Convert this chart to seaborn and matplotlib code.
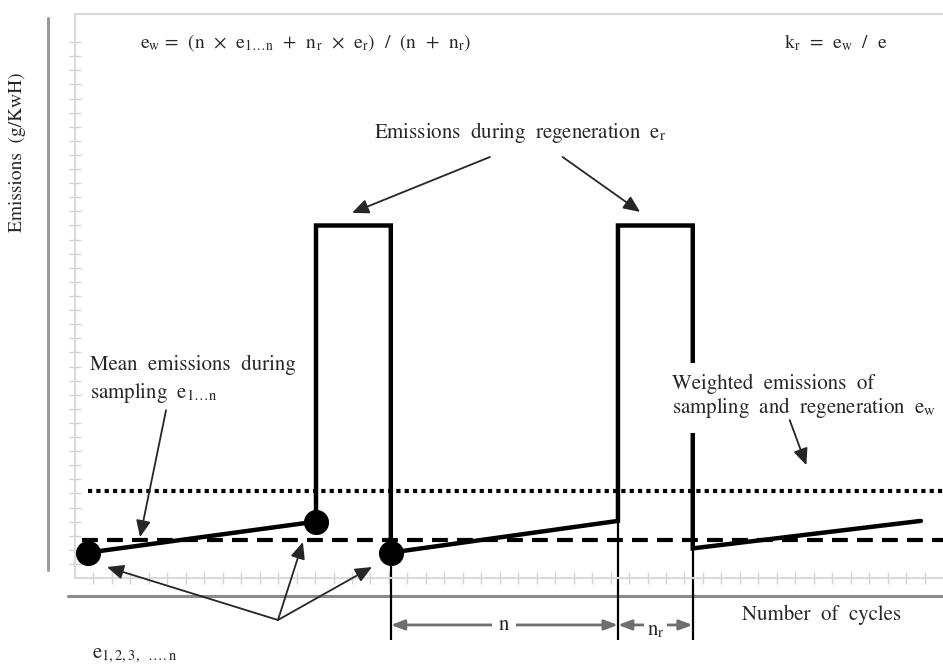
'''
Regeneration emissions schematic (e_w / k_r)
'''
import numpy as np
import seaborn as sns
import matplotlib.pyplot as plt

# emission trace: sampling ramps, two regeneration plateaus
cycles = [0.7, 13.05, 13.05, 17.1, 17.1, 29.4, 29.4, 33.45, 33.45, 45.8]
emissions = [1.8, 4.0, 25.0, 25.0, 1.8, 4.05, 25.0, 25.0, 2.1, 4.05]

# single test points e_1, e_2, e_3 ...
dot_cycles = [0.7, 13.05, 17.1]
dot_emissions = [1.8, 4.0, 1.8]

mean_e = 2.7        # e_1...n (dashed)
weighted_e = 6.2    # e_w (dotted)
level_start = 0.4
x_max, y_max = 47, 40

# n and n_r spans
n_span = [17.1, 29.4]
nr_span = [29.4, 33.45]
ext_tops = [1.8, 4.05, 2.1]

sns.set_theme(style='white')
plt.rcParams['font.family'] = ['STIXGeneral', 'DejaVu Serif']
plt.rcParams['mathtext.fontset'] = 'stix'

fig = plt.figure(figsize=(9.43, 6.64), dpi=100)
ax = fig.add_axes([75/943, 86/664, 868/943, 564/664])
ax.set_xlim(0, x_max)
ax.set_ylim(0, y_max)

# light grey frame with minor tick marks
for side in ['left', 'top', 'bottom']:
    ax.spines[side].set_color('#dadada')
    ax.spines[side].set_linewidth(1.5)
ax.spines['right'].set_visible(False)
ax.set_xticks(np.arange(1, x_max))
ax.set_yticks(np.arange(1, y_max - 1))
ax.tick_params(direction='inout', length=8, width=1, color='#d2d2d2',
               bottom=True, left=True, labelbottom=False, labelleft=False)

# darker outer axis lines
ax.plot([-0.031, -0.031], [0.014, 0.993], transform=ax.transAxes,
        color='#9a9a9a', lw=2.2, clip_on=False)
ax.plot([-0.008, 1.0], [-0.032, -0.032], transform=ax.transAxes,
        color='#8a8a8a', lw=2.2, clip_on=False)

# reference levels
ax.hlines(weighted_e, level_start + 0.3, x_max, colors='black', lw=3,
          linestyles=(0, (1, 1)))
ax.hlines(mean_e, level_start, x_max, colors='black', lw=3,
          linestyles=(0, (3.8, 2.2)))

# emission trace
sns.lineplot(x=cycles, y=emissions, sort=False, estimator=None, color='black',
             lw=3.2, ax=ax, solid_joinstyle='miter')
sns.scatterplot(x=dot_cycles, y=dot_emissions, s=280, color='black',
                edgecolor='black', zorder=5, ax=ax)

# extension lines for n / n_r
ax.vlines([n_span[0], nr_span[0], nr_span[1]], -4.4, ext_tops,
          colors='black', lw=1.6, clip_on=False)


def arrow(tail, head):
    ax.annotate('', xy=head, xytext=tail, annotation_clip=False,
                arrowprops=dict(arrowstyle='-|>,head_length=0.5,head_width=0.22',
                                color='#262626', lw=1.3, shrinkA=0, shrinkB=0,
                                mutation_scale=20))


def span(x0, x1, y):
    ax.annotate('', xy=(x1, y), xytext=(x0, y), annotation_clip=False,
                arrowprops=dict(arrowstyle='<|-|>,head_length=0.4,head_width=0.15',
                                color='#6e6e6e', lw=2, shrinkA=0, shrinkB=0,
                                mutation_scale=20))


fs = 15

ax.text(3.5, 38.0,
        r'e$_\mathrm{w}$ =  (n  ×  e$_\mathrm{1…n}$  +  n$_\mathrm{r}$  ×  '
        r'e$_\mathrm{r}$)  /  (n  +  n$_\mathrm{r}$)',
        fontsize=14, va='center', ha='left')
ax.text(38.4, 38.0, r'k$_\mathrm{r}$  =  e$_\mathrm{w}$  /  e',
        fontsize=14, va='center', ha='left')

ax.text(24.1, 31.6, r'Emissions  during  regeneration  e$_\mathrm{r}$',
        fontsize=fs, va='center', ha='center')
arrow((22.47, 29.86), (15.0, 25.9))
arrow((26.4, 29.86), (30.6, 25.96))

ax.text(0.81, 15.1, 'Mean  emissions  during', fontsize=fs, va='center')
ax.text(0.81, 13.1, r'sampling  e$_\mathrm{1…n}$', fontsize=fs, va='center')
arrow((4.93, 11.9), (3.52, 2.9))

ax.text(32.3, 12.85, 'Weighted  emissions  of\n'
        r'sampling  and  regeneration  e$_\mathrm{w}$',
        fontsize=fs, va='center', ha='left', linespacing=1.1,
        bbox=dict(facecolor='white', edgecolor='none', pad=9))
arrow((38.7, 11.2), (39.6, 8.0))

# e_1,2,3 pointers
for head in [(1.73, 0.78), (12.34, 2.55), (16.08, 0.78)]:
    arrow((10.99, -2.98), head)
ax.text(0.92, -5.46, r'e$_\mathrm{1,2,3,\ \ ….n}$', fontsize=fs, va='center')

ax.text(36.1, -2.62, 'Number  of  cycles', fontsize=fs, va='center')

span(n_span[0], n_span[1], -3.33)
ax.text(sum(n_span) / 2, -3.33, 'n', fontsize=fs, va='center', ha='center',
        bbox=dict(facecolor='white', edgecolor='none', pad=5))
span(nr_span[0], nr_span[1], -3.33)
ax.text(sum(nr_span) / 2, -3.75, r'n$_\mathrm{r}$', fontsize=fs, va='center',
        ha='center', bbox=dict(facecolor='white', edgecolor='none', pad=2))

fig.text(0.018, 0.771, 'Emissions  (g/KwH)', rotation=90, fontsize=14,
         va='center', ha='center')

plt.savefig('out.png', dpi=100)
